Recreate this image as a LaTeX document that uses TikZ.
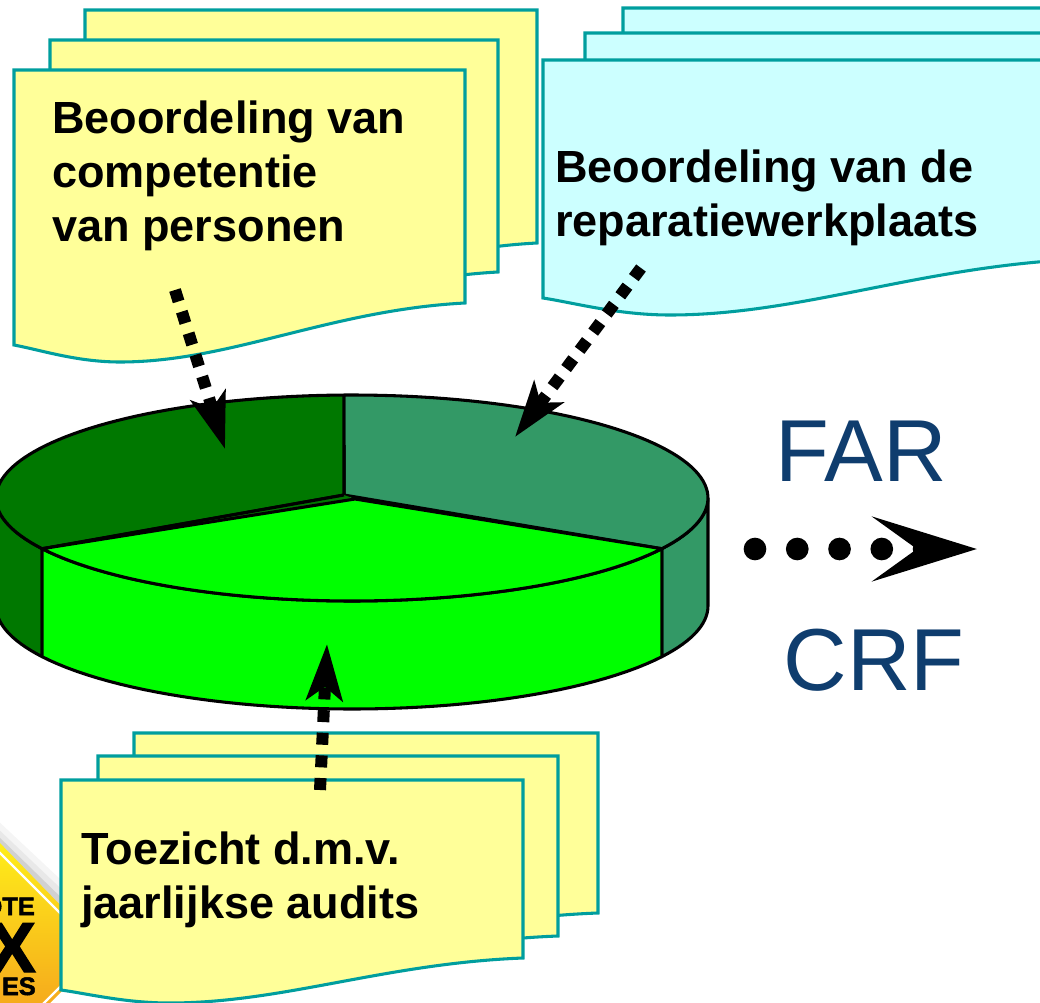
\documentclass[tikz,border=0pt]{standalone}
\usepackage{fontspec}
\setmainfont{Liberation Sans}
\newfontfamily\badgefont[FakeBold=2]{Liberation Sans Bold}
\usetikzlibrary{arrows.meta}
\definecolor{tealline}{HTML}{009E9E}
\definecolor{docyellow}{HTML}{FFFF99}
\definecolor{doccyan}{HTML}{CCFFFF}
\definecolor{pieone}{HTML}{007800}
\definecolor{pietwo}{HTML}{339966}
\definecolor{piethree}{HTML}{00FF00}
\definecolor{farblue}{HTML}{0F3D6E}
\definecolor{badgetop}{HTML}{FFF01A}
\definecolor{badgelow}{HTML}{F5A81C}
\newcommand{\wavedoc}[7]{% fill,x,y,w,left h,right h,lowest h
  \draw[docline,fill=#1] (#2,#3) -- ({#2+#4},#3) -- ({#2+#4},{#3+#6})
    .. controls ({#2+0.7*#4},{#3+#6+0.12*(#7-#6)}) and ({#2+0.48*#4},{#3+#7}) .. ({#2+0.235*#4},{#3+#7})
    .. controls ({#2+0.14*#4},{#3+#7}) and ({#2+0.06*#4},{#3+#5+0.3*(#7-#5)}) .. (#2,{#3+#5}) -- cycle;}
\newcommand{\rimx}[1]{{352+356*cos(#1)}}
\newcommand{\rimy}[1]{{498+103*sin(#1)}}
\newcommand{\lowy}[1]{{606+103*sin(#1)}}
\tikzset{
  docline/.style={draw=tealline,line width=2.3pt,line join=miter},
  pieline/.style={draw=black,line width=2.3pt,line join=round},
  doctext/.style={font=\bfseries\fontsize{33.8}{40.5}\selectfont,align=left,anchor=west,inner sep=0pt},
  bigtext/.style={font=\fontsize{66}{70}\selectfont,text=farblue,inner sep=0pt},
  dotarrow/.style={line width=9pt,dash pattern=on 9pt off 8pt,
     -{Stealth[length=42pt,width=27pt,inset=10pt]}},
  flowarrow/.style={line width=17pt,line cap=round,dash pattern=on 0pt off 31.7pt,
     -{Stealth[length=78pt,width=48pt,inset=33pt]}},
  badgetext/.style={inner sep=0pt,anchor=base east,text=black}
}
\begin{document}
\begin{tikzpicture}[x=0.75pt,y=-0.75pt]
\useasboundingbox (0,0) rectangle (1040,1003);
\clip (0,0) rectangle (1040,1003);
% badge
\fill[black!4] (-5,818) -- (75,893) -- (75,925) -- (-5,848) -- cycle;
\fill[black!9] (-5,826) -- (75,902) -- (75,925) -- (-5,848) -- cycle;
\fill[black!18] (-5,833) -- (75,911) -- (75,925) -- (-5,848) -- cycle;
\shade[top color=badgetop,bottom color=badgelow,shading angle=0] (-5,838) -- (70,915) -- (75,978) -- (45,1008) -- (-5,1010) -- cycle;
\draw[white,line width=1.6pt] (-5,848) -- (65,918);
\draw[white,line width=1.6pt] (62,985) -- (42,1005);
\node[badgetext,font=\badgefont\fontsize{19}{19}\selectfont] (bnote) at (35,915) {OTE};
\node[badgetext,font=\badgefont\fontsize{53}{53}\selectfont] (bx) at (36,972) {X};
\node[badgetext,font=\badgefont\fontsize{19}{19}\selectfont] (bes) at (36,995) {ES};
% documents
\wavedoc{docyellow}{85}{10}{452}{275}{233}{292}
\wavedoc{docyellow}{50}{40}{448}{275}{232}{292}
\wavedoc{docyellow}{14}{70}{451}{275}{233}{292}
\wavedoc{doccyan}{623}{8}{540}{238}{203}{255}
\wavedoc{doccyan}{585}{33}{540}{238}{203}{255}
\wavedoc{doccyan}{543}{60}{540}{238}{199}{255}
\wavedoc{docyellow}{134}{733}{464}{210}{180}{223}
\wavedoc{docyellow}{98}{756}{460}{210}{180}{223}
\wavedoc{docyellow}{61}{780}{462}{210}{178}{223}
\node[doctext] (persons) at (52,176) {Beoordeling van\\competentie\\van personen};
\node[doctext] (shop) at (555,198) {Beoordeling van de\\reparatiewerkplaats};
\node[doctext] (audit) at (81,880) {Toezicht d.m.v.\\jaarlijkse audits};
% pie sides
\filldraw[pieline,fill=pieone] plot[domain=150.5:180,samples=16] ({\rimx{\x}},{\rimy{\x}}) -- plot[domain=180:150.5,samples=16] ({\rimx{\x}},{\lowy{\x}}) -- cycle;
\filldraw[pieline,fill=pietwo] plot[domain=29.5:0,samples=16] ({\rimx{\x}},{\rimy{\x}}) -- plot[domain=0:29.5,samples=16] ({\rimx{\x}},{\lowy{\x}}) -- cycle;
\filldraw[pieline,fill=piethree] plot[domain=150.5:29.5,samples=50] ({\rimx{\x}},{\rimy{\x}}) -- plot[domain=29.5:150.5,samples=50] ({\rimx{\x}},{\lowy{\x}}) -- cycle;
% pie top
\filldraw[pieline,fill=pietwo] (344,495) -- plot[domain=-91.3:29.5,samples=60] ({\rimx{\x}},{\rimy{\x}}) -- cycle;
\filldraw[pieline,fill=pieone] (344,495) -- plot[domain=268.7:150.5,samples=60] ({\rimx{\x}},{\rimy{\x}}) -- cycle;
\fill[pieone] (344,495) -- (355,499) -- (42,549) -- cycle;
\draw[pieline] (344,495) -- (42,549);
\filldraw[pieline,fill=piethree] (355,499) -- plot[domain=150.5:29.5,samples=60] ({\rimx{\x}},{\rimy{\x}}) -- cycle;
% arrows
\coordinate (a1s) at (175,290); \coordinate (a1e) at (225,449);
\coordinate (a2s) at (641,268); \coordinate (a2e) at (515,437);
\coordinate (a3s) at (320,790); \coordinate (a3e) at (327,644);
\coordinate (a4s) at (755,549); \coordinate (a4e) at (977,549);
\draw[dotarrow] (a1s) -- (a1e);
\draw[dotarrow] (a2s) -- (a2e);
\draw[dotarrow] (a3s) -- (a3e);
\draw[flowarrow] (a4s) -- (a4e);
\node[bigtext] (far) at (861,451) {FAR};
\node[bigtext] (crf) at (874,660) {CRF};
\end{tikzpicture}
\end{document}
